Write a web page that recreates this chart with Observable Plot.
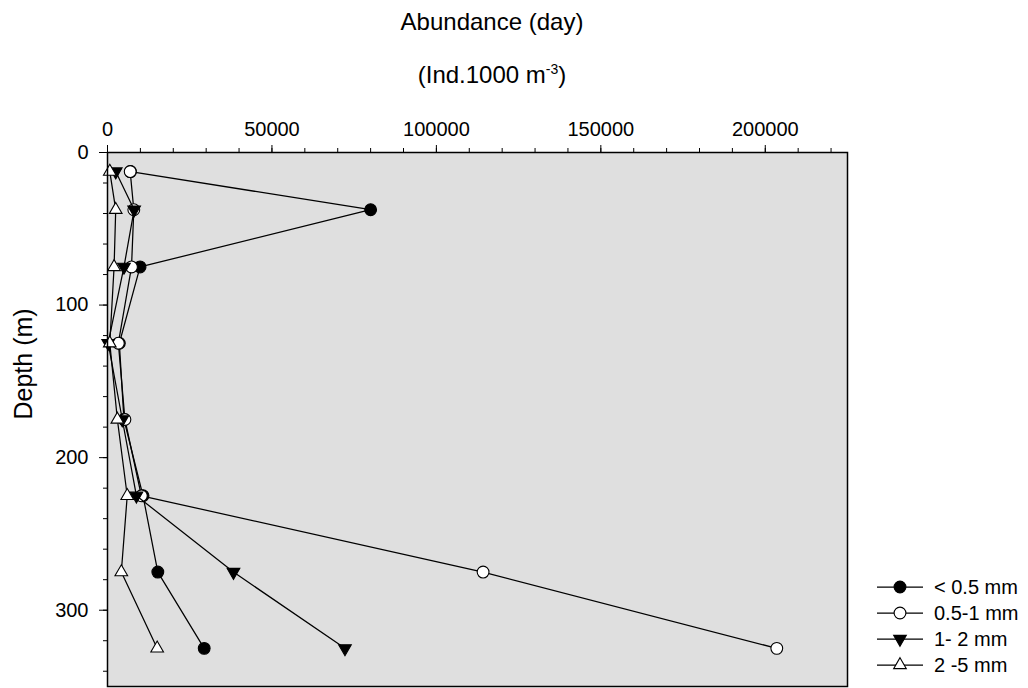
<!DOCTYPE html>
<html>
<head>
<meta charset="utf-8">
<script src="https://cdn.jsdelivr.net/npm/d3@7"></script>
<script src="https://cdn.jsdelivr.net/npm/@observablehq/plot@0.6"></script>
<style>
  body { margin: 0; background: #fff; font-family: "Liberation Sans", Arial, sans-serif; }
  #wrap { position: relative; width: 1028px; height: 688px; overflow: hidden; }
  .title { position: absolute; left: 0; width: 984px; text-align: center; font-size: 24px; line-height: 28px; color: #000; }
  .title sup { font-size: 14px; line-height: 0; vertical-align: 9px; }
  #chart { position: absolute; left: 0; top: 100px; }
  #legend { position: absolute; left: 860px; top: 570px; }
</style>
</head>
<body>
<div id="wrap">
  <div class="title" style="top:8px">Abundance (day)</div>
  <div class="title" style="top:61px">(Ind.1000 m<sup>-3</sup>)</div>
  <div id="chart"></div>
  <div id="legend"></div>
</div>
<script>
// ---- data ----
const depths = [12.5, 37.5, 75, 125, 175, 225, 275, 325];
const seriesNames = ["< 0.5 mm", "0.5-1 mm", "1- 2 mm", "2 -5 mm"];
const lt05  = [7000, 80000, 9900, 3600, 5000, 10800, 15300, 29400];
const s05_1 = [6900, 8000, 7300, 3300, 5300, 10300, 114200, 203500];
const s1_2  = [2500, 8100, 5000, 200, 4500, 8800, 38300, 72200];
const s2_5  = [700, 2500, 2000, 700, 3000, 6000, 4200, 15100];
const xMajorTicks = [0, 50000, 100000, 150000, 200000];
const yMajorTicks = [0, 100, 200, 300];

// ---- styles ----
const triDown = {
  draw(context, size) {
    const y = -Math.sqrt(size / (Math.sqrt(3) * 3));
    context.moveTo(0, -y * 2);
    context.lineTo(-Math.sqrt(3) * y, y);
    context.lineTo(Math.sqrt(3) * y, y);
    context.closePath();
  }
};
const seriesValues = [lt05, s05_1, s1_2, s2_5];
const styles = [
  {symbol: "circle", fill: "black", r: 5.9},
  {symbol: "circle", fill: "white", r: 5.9},
  {symbol: triDown, fill: "black", r: 4.7},
  {symbol: "triangle", fill: "white", r: 4.7}
];

const series = seriesValues.map((vals, i) => depths.map((d, j) => ({depth: d, v: vals[j], s: seriesNames[i]})));

const xMinor = d3.range(0, 225001, 10000);
const yMinor = d3.range(0, 341, 20);

const marks = [
  Plot.frame({fill: "#dfdfdf", stroke: null}),
  Plot.axisX({anchor: "top", ticks: xMinor, tickSize: 5, tickFormat: () => "", label: null}),
  Plot.axisX({anchor: "top", ticks: xMajorTicks, tickSize: 8, tickPadding: 9, tickFormat: d => String(d), fontSize: 20, label: null}),
  Plot.axisY({anchor: "left", ticks: yMinor, tickSize: 4, tickFormat: () => "", label: null}),
  Plot.axisY({anchor: "left", ticks: yMajorTicks, tickSize: 8, tickPadding: 11, tickFormat: d => String(d), fontSize: 20, label: null}),
  Plot.text(["Depth (m)"], {frameAnchor: "left", dx: -84, rotate: -90, fontSize: 25, fill: "black"})
];
series.forEach((data, i) => {
  marks.push(Plot.line(data, {x: "v", y: "depth", stroke: "black", strokeWidth: 1.25}));
  marks.push(Plot.dot(data, {x: "v", y: "depth", symbol: styles[i].symbol, r: styles[i].r, fill: styles[i].fill, stroke: "black", strokeWidth: 1.1}));
});
marks.push(Plot.frame({stroke: "black", strokeWidth: 1.5}));

const chart = Plot.plot({
  width: 1028,
  height: 588,
  marginTop: 52,
  marginLeft: 107,
  marginRight: 181,
  marginBottom: 2,
  style: {fontFamily: "Liberation Sans, Arial, sans-serif", fontSize: "20px", color: "black", background: "transparent"},
  x: {domain: [0, 225000]},
  y: {domain: [0, 350], reverse: true},
  marks
});
document.getElementById("chart").appendChild(chart);

// ---- legend ----
const lg = d3.select("#legend").append("svg").attr("width", 168).attr("height", 118)
  .style("font-family", "Liberation Sans, Arial, sans-serif");
seriesNames.forEach((name, i) => {
  const y = 17 + i * 26;
  const g = lg.append("g").attr("transform", `translate(0,${y})`);
  g.append("line").attr("x1", 17).attr("x2", 63).attr("y1", 0).attr("y2", 0).attr("stroke", "black").attr("stroke-width", 1.25);
  const st = styles[i];
  const sym = d3.symbol().type(st.symbol === "circle" ? d3.symbolCircle : st.symbol === "triangle" ? d3.symbolTriangle : st.symbol).size(Math.PI * st.r * st.r);
  g.append("path").attr("d", sym()).attr("transform", "translate(40,0)").attr("fill", st.fill).attr("stroke", "black").attr("stroke-width", 1.1);
  g.append("text").attr("x", 74).attr("y", 0).attr("dy", "0.35em").attr("font-size", 20).text(name);
});
</script>
</body>
</html>
